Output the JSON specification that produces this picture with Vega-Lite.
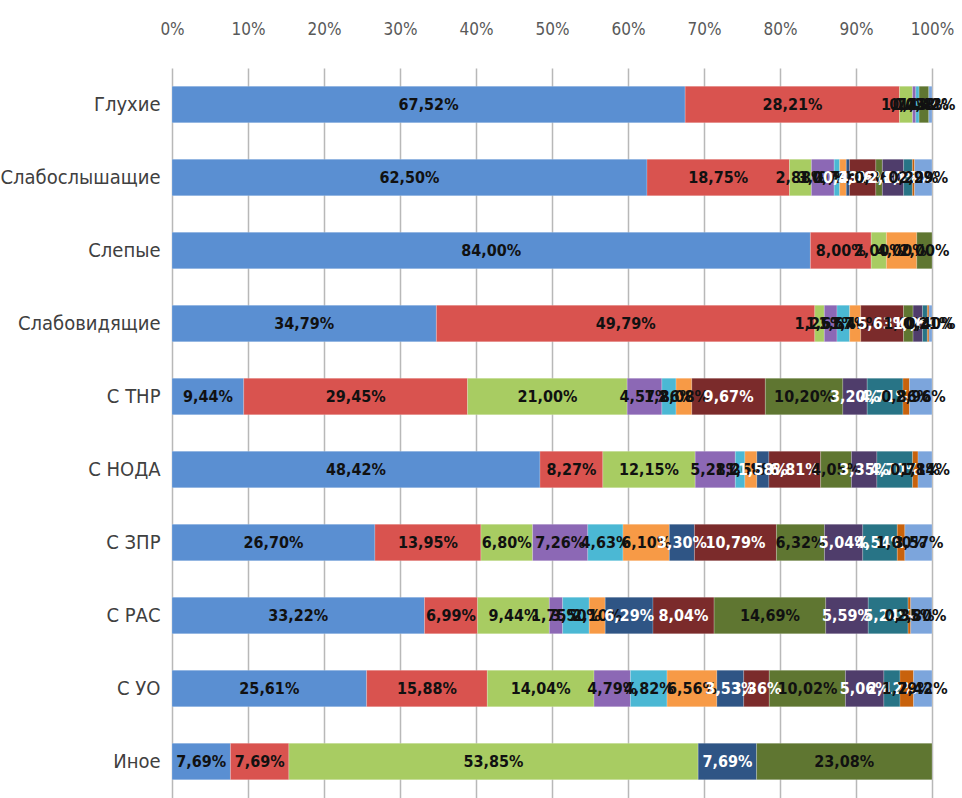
{
  "$schema": "https://vega.github.io/schema/vega-lite/v6.json",
  "width": 760,
  "height": 730,
  "autosize": {"type": "none"},
  "padding": {"left": 172, "top": 68, "right": 30, "bottom": 0},
  "background": "white",
  "config": {
    "locale": {"number": {"decimal": ",", "thousands": " ", "grouping": [3], "currency": ["", ""]}},
    "view": {"stroke": null},
    "font": "DejaVu Sans Condensed, DejaVu Sans, sans-serif"
  },
  "data": {"values": [
    {"cat": "Глухие", "s": "s01", "v": 0.6752},
    {"cat": "Глухие", "s": "s02", "v": 0.2821},
    {"cat": "Глухие", "s": "s03", "v": 0.0171},
    {"cat": "Глухие", "s": "s04", "v": 0.0043},
    {"cat": "Глухие", "s": "s05", "v": 0.0043},
    {"cat": "Глухие", "s": "s09", "v": 0.0128},
    {"cat": "Глухие", "s": "s13", "v": 0.0042},

    {"cat": "Слабослышащие", "s": "s01", "v": 0.6250},
    {"cat": "Слабослышащие", "s": "s02", "v": 0.1875},
    {"cat": "Слабослышащие", "s": "s03", "v": 0.0288},
    {"cat": "Слабослышащие", "s": "s04", "v": 0.0300},
    {"cat": "Слабослышащие", "s": "s05", "v": 0.0072},
    {"cat": "Слабослышащие", "s": "s06", "v": 0.0087},
    {"cat": "Слабослышащие", "s": "s07", "v": 0.0043},
    {"cat": "Слабослышащие", "s": "s08", "v": 0.0346},
    {"cat": "Слабослышащие", "s": "s09", "v": 0.0086},
    {"cat": "Слабослышащие", "s": "s10", "v": 0.0280},
    {"cat": "Слабослышащие", "s": "s11", "v": 0.0115},
    {"cat": "Слабослышащие", "s": "s12", "v": 0.0029},
    {"cat": "Слабослышащие", "s": "s13", "v": 0.0229},

    {"cat": "Слепые", "s": "s01", "v": 0.8400},
    {"cat": "Слепые", "s": "s02", "v": 0.0800},
    {"cat": "Слепые", "s": "s03", "v": 0.0200},
    {"cat": "Слепые", "s": "s06", "v": 0.0400},
    {"cat": "Слепые", "s": "s09", "v": 0.0200},

    {"cat": "Слабовидящие", "s": "s01", "v": 0.3479},
    {"cat": "Слабовидящие", "s": "s02", "v": 0.4979},
    {"cat": "Слабовидящие", "s": "s03", "v": 0.0125},
    {"cat": "Слабовидящие", "s": "s04", "v": 0.0167},
    {"cat": "Слабовидящие", "s": "s05", "v": 0.0167},
    {"cat": "Слабовидящие", "s": "s06", "v": 0.0146},
    {"cat": "Слабовидящие", "s": "s08", "v": 0.0563},
    {"cat": "Слабовидящие", "s": "s09", "v": 0.0125},
    {"cat": "Слабовидящие", "s": "s10", "v": 0.0125},
    {"cat": "Слабовидящие", "s": "s11", "v": 0.0063},
    {"cat": "Слабовидящие", "s": "s12", "v": 0.0021},
    {"cat": "Слабовидящие", "s": "s13", "v": 0.0040},

    {"cat": "С ТНР", "s": "s01", "v": 0.0944},
    {"cat": "С ТНР", "s": "s02", "v": 0.2945},
    {"cat": "С ТНР", "s": "s03", "v": 0.2100},
    {"cat": "С ТНР", "s": "s04", "v": 0.0457},
    {"cat": "С ТНР", "s": "s05", "v": 0.0186},
    {"cat": "С ТНР", "s": "s06", "v": 0.0208},
    {"cat": "С ТНР", "s": "s08", "v": 0.0967},
    {"cat": "С ТНР", "s": "s09", "v": 0.1020},
    {"cat": "С ТНР", "s": "s10", "v": 0.0320},
    {"cat": "С ТНР", "s": "s11", "v": 0.0471},
    {"cat": "С ТНР", "s": "s12", "v": 0.0086},
    {"cat": "С ТНР", "s": "s13", "v": 0.0296},

    {"cat": "С НОДА", "s": "s01", "v": 0.4842},
    {"cat": "С НОДА", "s": "s02", "v": 0.0827},
    {"cat": "С НОДА", "s": "s03", "v": 0.1215},
    {"cat": "С НОДА", "s": "s04", "v": 0.0528},
    {"cat": "С НОДА", "s": "s05", "v": 0.0126},
    {"cat": "С НОДА", "s": "s06", "v": 0.0158},
    {"cat": "С НОДА", "s": "s07", "v": 0.0158},
    {"cat": "С НОДА", "s": "s08", "v": 0.0681},
    {"cat": "С НОДА", "s": "s09", "v": 0.0405},
    {"cat": "С НОДА", "s": "s10", "v": 0.0335},
    {"cat": "С НОДА", "s": "s11", "v": 0.0470},
    {"cat": "С НОДА", "s": "s12", "v": 0.0071},
    {"cat": "С НОДА", "s": "s13", "v": 0.0184},

    {"cat": "С ЗПР", "s": "s01", "v": 0.2670},
    {"cat": "С ЗПР", "s": "s02", "v": 0.1395},
    {"cat": "С ЗПР", "s": "s03", "v": 0.0680},
    {"cat": "С ЗПР", "s": "s04", "v": 0.0726},
    {"cat": "С ЗПР", "s": "s05", "v": 0.0463},
    {"cat": "С ЗПР", "s": "s06", "v": 0.0610},
    {"cat": "С ЗПР", "s": "s07", "v": 0.0330},
    {"cat": "С ЗПР", "s": "s08", "v": 0.1079},
    {"cat": "С ЗПР", "s": "s09", "v": 0.0632},
    {"cat": "С ЗПР", "s": "s10", "v": 0.0504},
    {"cat": "С ЗПР", "s": "s11", "v": 0.0454},
    {"cat": "С ЗПР", "s": "s12", "v": 0.0100},
    {"cat": "С ЗПР", "s": "s13", "v": 0.0357},

    {"cat": "С РАС", "s": "s01", "v": 0.3322},
    {"cat": "С РАС", "s": "s02", "v": 0.0699},
    {"cat": "С РАС", "s": "s03", "v": 0.0944},
    {"cat": "С РАС", "s": "s04", "v": 0.0175},
    {"cat": "С РАС", "s": "s05", "v": 0.0350},
    {"cat": "С РАС", "s": "s06", "v": 0.0210},
    {"cat": "С РАС", "s": "s07", "v": 0.0629},
    {"cat": "С РАС", "s": "s08", "v": 0.0804},
    {"cat": "С РАС", "s": "s09", "v": 0.1469},
    {"cat": "С РАС", "s": "s10", "v": 0.0559},
    {"cat": "С РАС", "s": "s11", "v": 0.0524},
    {"cat": "С РАС", "s": "s12", "v": 0.0035},
    {"cat": "С РАС", "s": "s13", "v": 0.0280},

    {"cat": "С УО", "s": "s01", "v": 0.2561},
    {"cat": "С УО", "s": "s02", "v": 0.1588},
    {"cat": "С УО", "s": "s03", "v": 0.1404},
    {"cat": "С УО", "s": "s04", "v": 0.0479},
    {"cat": "С УО", "s": "s05", "v": 0.0482},
    {"cat": "С УО", "s": "s06", "v": 0.0656},
    {"cat": "С УО", "s": "s07", "v": 0.0353},
    {"cat": "С УО", "s": "s08", "v": 0.0336},
    {"cat": "С УО", "s": "s09", "v": 0.1002},
    {"cat": "С УО", "s": "s10", "v": 0.0506},
    {"cat": "С УО", "s": "s11", "v": 0.0212},
    {"cat": "С УО", "s": "s12", "v": 0.0179},
    {"cat": "С УО", "s": "s13", "v": 0.0242},

    {"cat": "Иное", "s": "s01", "v": 0.0769},
    {"cat": "Иное", "s": "s02", "v": 0.0769},
    {"cat": "Иное", "s": "s03", "v": 0.5385},
    {"cat": "Иное", "s": "s07", "v": 0.0769},
    {"cat": "Иное", "s": "s09", "v": 0.2308}
  ]},
  "transform": [
    {"stack": "v", "groupby": ["cat"], "sort": [{"field": "s", "order": "ascending"}], "as": ["v0", "v1"]},
    {"calculate": "(datum.v0 + datum.v1) / 2", "as": "mid"}
  ],
  "encoding": {
    "y": {
      "field": "cat",
      "type": "nominal",
      "sort": ["Глухие", "Слабослышащие", "Слепые", "Слабовидящие", "С ТНР", "С НОДА", "С ЗПР", "С РАС", "С УО", "Иное"],
      "scale": {"paddingInner": 0.5, "paddingOuter": 0.25},
      "axis": {
        "title": null,
        "domain": false,
        "ticks": false,
        "labelPadding": 12,
        "labelFontSize": 20,
        "labelColor": "#404040",
        "labelFont": "DejaVu Sans Condensed, DejaVu Sans, sans-serif"
      }
    }
  },
  "layer": [
    {
      "mark": {"type": "bar", "stroke": "#ffffff", "strokeWidth": 0.5, "strokeOpacity": 0.4},
      "encoding": {
        "x": {
          "field": "v0",
          "type": "quantitative",
          "scale": {"domain": [0, 1], "nice": false},
          "axis": {
            "orient": "top",
            "title": null,
            "format": "%",
            "values": [0, 0.1, 0.2, 0.3, 0.4, 0.5, 0.6, 0.7, 0.8, 0.9, 1],
            "domain": false,
            "ticks": false,
            "grid": true,
            "gridColor": "#b8b8b8",
            "gridWidth": 1.5,
            "labelPadding": 30,
            "labelFontSize": 17,
            "labelColor": "#595959",
            "labelFont": "DejaVu Sans Condensed, DejaVu Sans, sans-serif",
            "labelFlush": false
          }
        },
        "x2": {"field": "v1"},
        "color": {
          "field": "s",
          "type": "nominal",
          "legend": null,
          "scale": {
            "domain": ["s01", "s02", "s03", "s04", "s05", "s06", "s07", "s08", "s09", "s10", "s11", "s12", "s13"],
            "range": ["#5a8fd2", "#d9534f", "#a8cc62", "#8c68b5", "#4bb8d4", "#f79a46", "#2f5585", "#7b2b2b", "#5f7631", "#4f3d6b", "#287486", "#c8620c", "#7ca5dc"]
          }
        }
      }
    },
    {
      "mark": {"type": "text", "fontSize": 16, "fontWeight": "bold", "font": "DejaVu Sans Condensed, DejaVu Sans, sans-serif", "baseline": "middle", "align": "center"},
      "encoding": {
        "x": {"field": "mid", "type": "quantitative"},
        "text": {"field": "v", "type": "quantitative", "format": ".2%"},
        "color": {
          "field": "s",
          "type": "nominal",
          "legend": null,
          "scale": {
            "domain": ["s01", "s02", "s03", "s04", "s05", "s06", "s07", "s08", "s09", "s10", "s11", "s12", "s13"],
            "range": ["#111111", "#111111", "#111111", "#111111", "#111111", "#111111", "#ffffff", "#ffffff", "#111111", "#ffffff", "#ffffff", "#111111", "#111111"]
          }
        }
      }
    }
  ],
  "resolve": {"scale": {"color": "independent"}}
}
